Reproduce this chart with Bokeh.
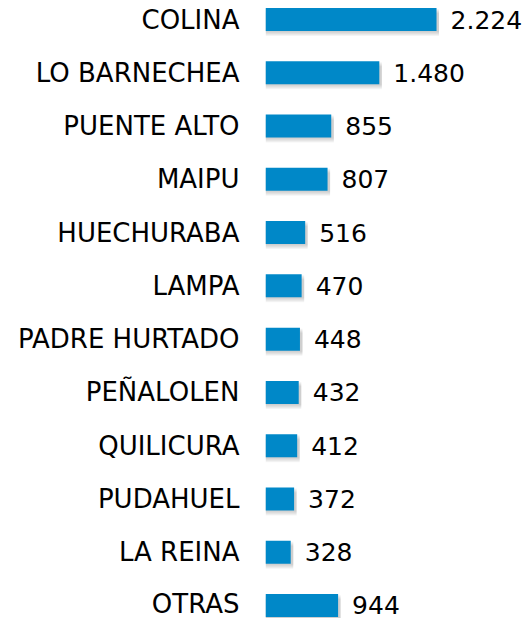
from bokeh.plotting import figure
from bokeh.models import ColumnDataSource, FixedTicker
from bokeh.core.properties import value
from bokeh.embed import file_html
from bokeh.resources import INLINE

comunas = ["COLINA", "LO BARNECHEA", "PUENTE ALTO", "MAIPU", "HUECHURABA", "LAMPA",
           "PADRE HURTADO", "PEÑALOLEN", "QUILICURA", "PUDAHUEL", "LA REINA", "OTRAS"]
valores = [2224, 1480, 855, 807, 516, 470, 448, 432, 412, 372, 328, 944]

n = len(comunas)
ypos = [n - 1 - i for i in range(n)]
etiquetas = [f"{v:,}".replace(",", ".") for v in valores]

src = ColumnDataSource(dict(y=ypos, v=valores, t=etiquetas))

PX_Y = 53.27
PX_X = 0.0769
left_border = 265
W, H = 526, 618
x_end = (W - left_border) / PX_X
p = figure(width=W, height=H, output_backend="svg", toolbar_location=None,
           x_range=(0, x_end), y_range=(-13 / PX_Y, (n - 1) + 19 / PX_Y),
           min_border_left=left_border, min_border_right=0, min_border_top=0, min_border_bottom=0)

bar_h = 23 / PX_Y
# soft drop shadow
for k in range(1, 6):
    shadow = ColumnDataSource(dict(y=[y - k / PX_Y for y in ypos],
                                   r=[v + 2.5 / PX_X for v in valores]))
    p.hbar(y="y", left=0, right="r", height=bar_h, source=shadow,
           fill_color="#808080", fill_alpha=0.09, line_color=None)

p.hbar(y="y", left=0, right="v", height=bar_h, source=src,
       fill_color="#0088C8", line_color=None)

p.text(x="v", y="y", text="t", source=src, x_offset=14,
       text_font=value("DejaVu Sans"), text_font_size="25px",
       text_align="left", text_baseline="middle", text_color="black")

p.xaxis.visible = False
p.xgrid.visible = False
p.ygrid.visible = False
p.outline_line_color = None

ax = p.yaxis[0]
ax.ticker = FixedTicker(ticks=ypos)
ax.major_label_overrides = {y: c for y, c in zip(ypos, comunas)}
ax.axis_line_color = None
ax.major_tick_line_color = None
ax.minor_tick_line_color = None
ax.major_tick_out = 0
ax.major_tick_in = 0
ax.major_label_standoff = 26
ax.major_label_text_font = "DejaVu Sans"
ax.major_label_text_font_size = "26px"
ax.major_label_text_color = "black"

open("out.html", "w").write(file_html(p, INLINE))
